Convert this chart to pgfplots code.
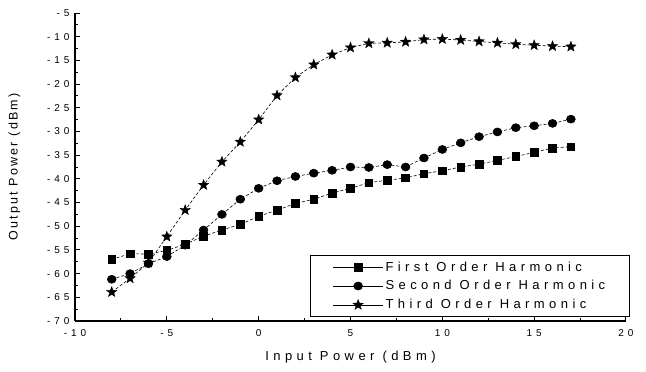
\documentclass[border=0pt]{standalone}
\usepackage{fontspec}
\setmainfont{Liberation Sans}
\newfontfamily\lsfont{Liberation Sans}[LetterSpace=34]
\newfontfamily\lgfont{Liberation Sans}[LetterSpace=34]
\newfontfamily\ylfont{Liberation Sans}[LetterSpace=18]
\newfontfamily\tkfont{Liberation Sans}[LetterSpace=40]
\usepackage{pgfplots}
\pgfplotsset{compat=1.18}
\pgfdeclareplotmark{fstar}{%
  \pgfpathmoveto{\pgfpointpolar{90}{\pgfplotmarksize}}%
  \pgfpathlineto{\pgfpointpolar{126}{0.42\pgfplotmarksize}}%
  \pgfpathlineto{\pgfpointpolar{162}{\pgfplotmarksize}}%
  \pgfpathlineto{\pgfpointpolar{198}{0.42\pgfplotmarksize}}%
  \pgfpathlineto{\pgfpointpolar{234}{\pgfplotmarksize}}%
  \pgfpathlineto{\pgfpointpolar{270}{0.42\pgfplotmarksize}}%
  \pgfpathlineto{\pgfpointpolar{306}{\pgfplotmarksize}}%
  \pgfpathlineto{\pgfpointpolar{342}{0.42\pgfplotmarksize}}%
  \pgfpathlineto{\pgfpointpolar{18}{\pgfplotmarksize}}%
  \pgfpathlineto{\pgfpointpolar{54}{0.42\pgfplotmarksize}}%
  \pgfpathclose
  \pgfusepathqfillstroke}
\begin{document}
\begin{tikzpicture}
\begin{axis}[
  scale only axis, width=551pt, height=308pt,
  xmin=-10, xmax=20, ymin=-70, ymax=-5,
  axis lines=left, axis line style={-, line width=1.4pt},
  xtick={-10,-5,...,20}, ytick={-70,-65,...,-5},
  minor tick num=1,
  tick align=inside,
  major tick length=5pt, minor tick length=3pt,
  tick style={line width=1pt, black},
  /pgf/number format/assume math mode=true,
  ticklabel style={font=\tkfont\fontsize{10}{12}\selectfont},
  xticklabel style={yshift=-5pt},
  yticklabel style={xshift=-2pt},
  xlabel={Input Power (dBm)}, ylabel={Output Power (dBm)},
  xlabel style={font=\lsfont\fontsize{13}{15}\selectfont, yshift=-8pt},
  ylabel style={font=\ylfont\fontsize{12.5}{14}\selectfont, yshift=20pt},
  legend style={at={(rel axis cs:1.007,0.013)}, anchor=south east,
    font=\lgfont\fontsize{13}{15}\selectfont, draw=black, line width=1.2pt,
    inner xsep=22pt, inner ysep=4pt, row sep=4pt},
  legend cell align=left,
  legend image code/.code={
    \draw[mark repeat=2,mark phase=2, solid, line width=0.7pt] plot coordinates {(0cm,0cm) (0.88cm,0cm) (1.76cm,0cm)};},
  every axis plot/.append style={black, line width=0.6pt, dash pattern=on 3pt off 2pt},
]
\addplot[mark=square*, mark size=3.8pt, mark options={solid}] coordinates {
(-8,-57.0) (-7,-55.8) (-6,-55.9) (-5,-55.1) (-4,-53.8) (-3,-52.1) (-2,-50.8)
(-1,-49.6) (0,-47.9) (1,-46.6) (2,-45.2) (3,-44.3) (4,-43.0) (5,-42.0)
(6,-40.8) (7,-40.3) (8,-39.8) (9,-38.9) (10,-38.3) (11,-37.5) (12,-36.9)
(13,-36.1) (14,-35.3) (15,-34.4) (16,-33.5) (17,-33.2)};
\addplot[mark=*, mark size=4pt, mark options={solid, xscale=1.1}] coordinates {
(-8,-61.2) (-7,-60.0) (-6,-57.9) (-5,-56.4) (-4,-54.0) (-3,-50.8) (-2,-47.5)
(-1,-44.3) (0,-42.0) (1,-40.4) (2,-39.5) (3,-38.8) (4,-38.2) (5,-37.5)
(6,-37.6) (7,-37.0) (8,-37.5) (9,-35.6) (10,-33.8) (11,-32.4) (12,-31.1)
(13,-30.1) (14,-29.2) (15,-28.8) (16,-28.3) (17,-27.4)};
\addplot[mark=fstar, mark size=5.5pt, mark options={solid, line width=0.3pt}] coordinates {
(-8,-63.9) (-7,-61.0) (-6,-57.7) (-5,-52.2) (-4,-46.6) (-3,-41.3) (-2,-36.4)
(-1,-32.2) (0,-27.5) (1,-22.4) (2,-18.6) (3,-15.9) (4,-13.8) (5,-12.3)
(6,-11.4) (7,-11.3) (8,-11.1) (9,-10.6) (10,-10.5) (11,-10.7) (12,-11.0)
(13,-11.3) (14,-11.6) (15,-11.8) (16,-12.0) (17,-12.1)};
\legend{First Order Harmonic, Second Order Harmonic, Third Order Harmonic}
\end{axis}
\pgfresetboundingbox
\path (current axis.south west) ++(-75pt,-51pt) rectangle ++(646pt,372pt);
\end{tikzpicture}
\end{document}
